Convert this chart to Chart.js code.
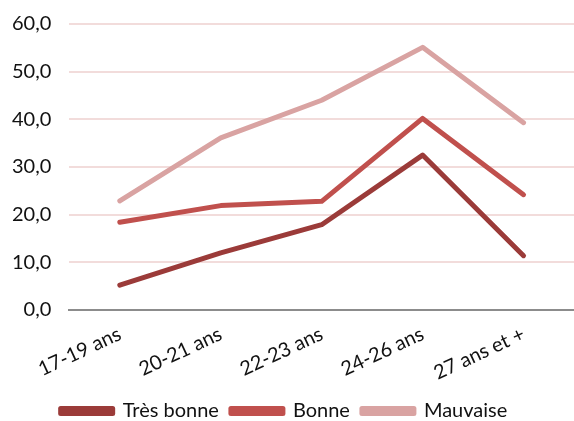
<!DOCTYPE html>
<html>
<head>
<meta charset="utf-8">
<script src="https://cdn.jsdelivr.net/npm/chart.js@4/dist/chart.umd.min.js"></script>
<style>
  html, body { margin: 0; padding: 0; background: #fff; }
</style>
</head>
<body>
<canvas id="age_chart" width="574" height="421"></canvas>
<script>
var categories = ["17-19 ans", "20-21 ans", "22-23 ans", "24-26 ans", "27 ans et +"];
var tresBonne = [5.2, 12.0, 17.9, 32.5, 11.4];
var bonne = [18.4, 21.9, 22.8, 40.2, 24.2];
var mauvaise = [22.9, 36.1, 44.0, 55.1, 39.3];
var seriesNames = ["Très bonne", "Bonne", "Mauvaise"];
var seriesColors = ["#9B3B39", "#C0504D", "#D9A3A2"];

Chart.defaults.font.family = "Lato, 'Open Sans', sans-serif";
Chart.defaults.font.size = 20;
Chart.defaults.color = "#111111";

function makeDataset(i, values) {
  return {
    label: seriesNames[i],
    data: values,
    borderColor: seriesColors[i],
    backgroundColor: seriesColors[i],
    borderWidth: 5,
    borderCapStyle: "round",
    borderJoinStyle: "round",
    pointRadius: 0,
    tension: 0,
  };
}

var ctx = document.getElementById("age_chart").getContext("2d");
var age_chart = new Chart(ctx, {
  type: "line",
  data: {
    labels: categories,
    datasets: [
      makeDataset(0, tresBonne),
      makeDataset(1, bonne),
      makeDataset(2, mauvaise),
    ],
  },
  options: {
    responsive: false,
    animation: false,
    layout: {
      padding: { left: -6, right: 0, top: -12, bottom: -10 },
    },
    scales: {
      x: {
        offset: true,
        grid: { display: false },
        border: { display: true, color: "#8c8c8c", width: 2 },
        ticks: {
          minRotation: 25,
          maxRotation: 25,
          padding: 4,
        },
      },
      y: {
        min: 0,
        max: 60,
        border: { display: false },
        grid: {
          color: function (c) {
            return c.tick.value === 0 ? "#8c8c8c" : "#F2DCDB";
          },
          lineWidth: 2,
          drawTicks: false,
        },
        ticks: {
          stepSize: 10,
          padding: 18,
          font: { size: 20, lineHeight: 0.6 },
          callback: function (v) {
            return v.toFixed(1).replace(".", ",");
          },
        },
      },
    },
    plugins: {
      legend: {
        position: "bottom",
        labels: {
          boxWidth: 52,
          boxHeight: 5,
          padding: 12,
        },
      },
      tooltip: { enabled: false },
    },
  },
});
</script>
</body>
</html>
